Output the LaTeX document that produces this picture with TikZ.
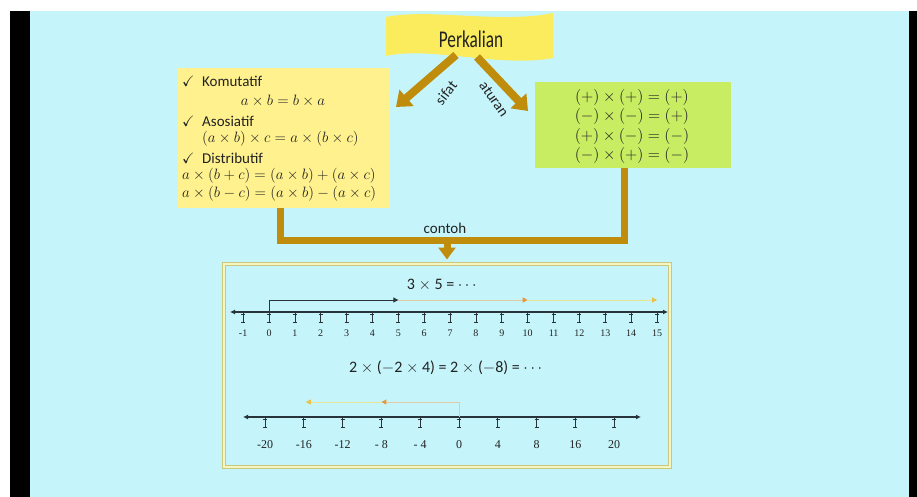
\RequirePackage{fix-cm}
\documentclass[tikz,border=0pt]{standalone}
\usepackage{amsmath}
\usepackage{amssymb}
\usepackage{graphicx}
\usepackage{fontspec}
\setmainfont{Carlito}
\newfontfamily\numfont{Liberation Serif}
\usetikzlibrary{arrows.meta,positioning,calc}

\definecolor{bgcyan}{RGB}{197,245,251}
\definecolor{flagyellow}{RGB}{250,236,92}
\definecolor{sifatyellow}{RGB}{255,242,142}
\definecolor{aturangreen}{RGB}{200,236,98}
\definecolor{arrowbrown}{RGB}{192,140,12}
\definecolor{frameolive}{RGB}{200,200,120}
\definecolor{framepale}{RGB}{246,246,196}
\definecolor{stepdark}{RGB}{40,52,58}
\definecolor{steporange}{RGB}{232,150,60}
\definecolor{steptan}{RGB}{226,202,162}
\definecolor{stepgold}{RGB}{234,194,72}
\definecolor{steppale}{RGB}{234,228,150}
\definecolor{textdark}{RGB}{34,34,34}

\tikzset{
  bigarrow/.style={draw=arrowbrown, line width=8pt, -{Triangle[width=21pt,length=14pt]}},
  joinline/.style={draw=arrowbrown, line width=7pt},
  infobox/.style={rectangle, inner sep=0pt},
  wordtext/.style={text=textdark, inner sep=1pt, font=\fontsize{15}{18}\selectfont},
  mathtext/.style={text=textdark, inner sep=1pt, font=\fontsize{15}{18}\selectfont},
  ruletext/.style={text=textdark, inner sep=1pt, font=\fontsize{16}{19}\selectfont},
  numaxis/.style={draw=stepdark, line width=1.1pt, {Latex[length=5pt,width=5pt]}-{Latex[length=5pt,width=5pt]}},
  tickmark/.style={draw=stepdark, line width=0.7pt},
  numlabel/.style={text=textdark, inner sep=0pt, font=\numfont\fontsize{10}{12}\selectfont},
  biglabel/.style={text=textdark, inner sep=0pt, font=\numfont\fontsize{12}{14}\selectfont},
  exbox/.style={rectangle, draw=frameolive, line width=1pt, double=framepale, double distance=2pt,
    fill=bgcyan, minimum width=446pt, minimum height=203pt, inner sep=0pt}
}

\begin{document}
\begin{tikzpicture}[x=1pt,y=-1pt]
  \useasboundingbox (0,0) rectangle (917,497);
  % Screen
  \fill[white] (0,0) rectangle (917,497);
  \fill[black] (10,11) rectangle (30,497);
  \fill[bgcyan] (30,11) rectangle (909,497);
  \fill[black] (909,11) rectangle (917,497);

  % Title banner
  \fill[flagyellow] (386,17) .. controls (430,8) and (500,24) .. (553,13)
    -- (553,58) .. controls (500,68) and (430,46) .. (386,56) -- cycle;
  \node[text=textdark, inner sep=0pt, font=\fontsize{24}{26}\selectfont] (title) at (471,39)
    {\scalebox{0.72}[1]{Perkalian}};

  % Boxes
  \node[infobox, fill=sifatyellow, minimum width=212pt, minimum height=140pt] (sifat) at (284,138) {};
  \node[infobox, fill=aturangreen, minimum width=196pt, minimum height=86pt] (aturan) at (633,125) {};

  % Branch arrows
  \coordinate (tl) at (456,55);
  \coordinate (tr) at (477,57);
  \coordinate (hl) at (396,107);
  \coordinate (hr) at (528,111);
  \draw[bigarrow] (tl) -- (hl);
  \draw[bigarrow] (tr) -- (hr);
  \node[wordtext, rotate=52] (sifatlbl) at (446,93) {sifat};
  \node[wordtext, rotate=-55] (aturanlbl) at (494,99) {aturan};

  % Properties
  \node[wordtext, anchor=west] (kom) at (181,81) {\makebox[20pt][l]{\checkmark}Komutatif};
  \node[mathtext] (komf) at (283,101) {$a\times b=b\times a$};
  \node[wordtext, anchor=west] (aso) at (181,121) {\makebox[20pt][l]{\checkmark}Asosiatif};
  \node[mathtext, anchor=west] (asof) at (201,139) {$(a\times b)\times c=a\times(b\times c)$};
  \node[wordtext, anchor=west] (dis) at (181,158) {\makebox[20pt][l]{\checkmark}Distributif};
  \node[mathtext, anchor=west] (disa) at (181,176) {$a\times(b+c)=(a\times b)+(a\times c)$};
  \node[mathtext, anchor=west] (disb) at (181,194) {$a\times(b-c)=(a\times b)-(a\times c)$};

  % Sign rules
  \node[ruletext] (r1) at (632,98) {$(+)\times(+)=(+)$};
  \node[ruletext] (r2) at (632,117) {$(-)\times(-)=(+)$};
  \node[ruletext] (r3) at (632,137) {$(+)\times(-)=(-)$};
  \node[ruletext] (r4) at (632,156) {$(-)\times(+)=(-)$};

  % Example frame
  \node[exbox] (ex) at (447,365.5) {};
  \coordinate (joint) at (447,240);
  \draw[joinline] ([xshift=-4pt]sifat.south) |- (joint) -| ([xshift=-9pt]aturan.south);
  \draw[draw=arrowbrown, line width=7pt, -{Triangle[width=17pt,length=12pt]}] (joint) -- ([yshift=4pt]ex.north);
  \node[wordtext] (contoh) at (445,228) {contoh};

  % First number line
  \node[text=textdark, inner sep=0pt, font=\fontsize{16}{19}\selectfont] (ex1) at (443,285) {3 $\times$ 5 = $\cdots$};
  \draw[numaxis] (230,312) -- (668,312);
  \foreach \k in {-1,...,15} {
    \coordinate (t\k) at ({269+25.87*\k},312);
    \draw[tickmark] (t\k) -- ++(0,10);
    \draw[tickmark] ($(t\k)+(-2,2)$) -- ++(4,0);
    \draw[tickmark] ($(t\k)+(-2,10)$) -- ++(4,0);
    \node[numlabel] (a\k) at ({269+25.87*\k},333) {\k};
  }
  \draw[stepdark, line width=0.8pt, -{Triangle[length=5pt,width=5pt]}] (t0) |- ($(t5)+(0,-12)$);
  \draw[steptan, line width=0.9pt, -{Triangle[length=5pt,width=5pt,color=steporange]}] ($(t5)+(0,-12)$) -- ($(t10)+(0,-12)$);
  \draw[steppale, line width=0.9pt, -{Triangle[length=5pt,width=5pt,color=stepgold]}] ($(t10)+(0,-12)$) -- ($(t15)+(0,-12)$);

  % Second number line
  \node[text=textdark, inner sep=0pt, font=\fontsize{16}{19}\selectfont] (ex2) at (447,368)
    {2 $\times$ ($-$2 $\times$ 4) = 2 $\times$ ($-$8) = $\cdots$};
  \draw[numaxis] (243,417) -- (641,417);
  \foreach \lab [count=\i from 0] in {-20,-16,-12,- 8,- 4,0,4,8,16,20} {
    \coordinate (u\i) at ({265+38.8*\i},417);
    \draw[tickmark] (u\i) -- ++(0,10);
    \draw[tickmark] ($(u\i)+(-2,2)$) -- ++(4,0);
    \draw[tickmark] ($(u\i)+(-2,10)$) -- ++(4,0);
    \node[biglabel] (b\i) at ({265+38.8*\i},445) {\lab};
  }
  \draw[steptan, line width=0.9pt, -{Triangle[length=5pt,width=5pt,color=steporange]}] (u5) |- ($(u3)+(0,-15)$);
  \draw[steppale, line width=0.9pt, -{Triangle[length=5pt,width=5pt,color=stepgold]}] ($(u3)+(0,-15)$) -- ($(u1)+(2,-15)$);
\end{tikzpicture}
\end{document}
